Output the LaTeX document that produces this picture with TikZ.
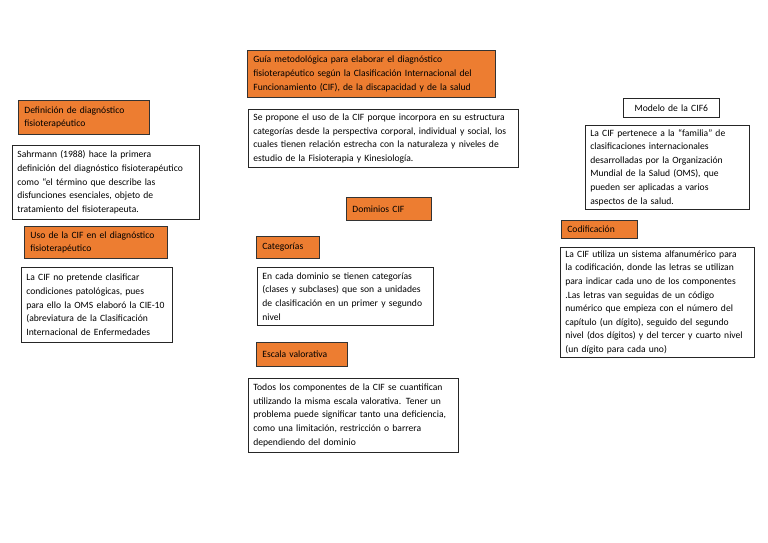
\documentclass[tikz,border=0pt]{standalone}
\usepackage{fontspec}
\setmainfont{Carlito}
\usepackage{xcolor}
\usepackage{tikz}
\usetikzlibrary{positioning}
\definecolor{orange2}{HTML}{ED7D31}

\begin{document}
\begin{tikzpicture}[x=1pt,y=-1pt,
          every node/.style={font=\fontsize{9.6}{13.6}\selectfont,anchor=north west},
          head/.style={draw=black!80,line width=0.7pt,fill=orange2,align=left,
                       inner xsep=6pt,inner ysep=2pt},
          txt/.style={draw=black!85,line width=0.7pt,fill=white,align=left,
                      inner xsep=5pt,inner ysep=2pt},
      ]
        \useasboundingbox[fill=white] (0,0) rectangle (768,543);

        % centre column
        \node[head,text width=236pt,minimum height=47pt] (guia) at (247,50)
          {Guía metodológica para elaborar el diagnóstico\\
           fisioterapéutico según la Clasificación Internacional del\\
           Funcionamiento (CIF), de la discapacidad y de la salud};
        \node[txt,text width=260pt,minimum height=58pt] (propone) at (248,109)
          {Se propone el uso de la CIF porque incorpora en su estructura\\
           categorías desde la perspectiva corporal, individual y social, los\\
           cuales tienen relación estrecha con la naturaleza y niveles de\\
           estudio de la Fisioterapia y Kinesiología.};
        \node[head,text width=73pt,minimum height=23pt] (dominios) at (346,197)
          {Dominios CIF};
        \node[head,text width=51pt,minimum height=22pt] (categ) at (256,236)
          {Categorías};
        \node[txt,text width=166pt,minimum height=58pt] (cada) at (257,267)
          {En cada dominio se tienen categorías\\
           (clases y subclases) que son a unidades\\
           de clasificación en un primer y segundo\\
           nivel};
        \node[head,text width=79pt,minimum height=24pt] (escala) at (256,342)
          {Escala valorativa};
        \node[txt,text width=200pt,minimum height=74pt] (todos) at (248,378)
          {Todos los componentes de la CIF se cuantifican\\
           utilizando la misma escala valorativa. Tener un\\
           problema puede significar tanto una deficiencia,\\
           como una limitación, restricción o barrera\\
           dependiendo del dominio};

        % left column
        \node[head,text width=119pt,minimum height=34pt] (defin) at (18,100)
          {Definición de diagnóstico\\
           fisioterapéutico};
        \node[txt,text width=177pt,minimum height=74pt] (sahr) at (12,145)
          {Sahrmann (1988) hace la primera\\
           definición del diagnóstico fisioterapéutico\\
           como “el término que describe las\\
           disfunciones esenciales, objeto de\\
           tratamiento del fisioterapeuta.};
        \node[head,text width=131pt,minimum height=32pt] (uso) at (24,226)
          {Uso de la CIF en el diagnóstico\\
           fisioterapéutico};
        \node[txt,text width=141pt,minimum height=75pt] (nopret) at (21,267)
          {La CIF no pretende clasificar\\
           condiciones patológicas, pues\\
           para ello la OMS elaboró la CIE-10\\
           (abreviatura de la Clasificación\\
           Internacional de Enfermedades};

        % right column
        \node[txt,align=center,text width=86pt,minimum height=19pt] (modelo) at (623,98)
          {Modelo de la CIF6};
        \node[txt,text width=154pt,minimum height=84pt] (familia) at (585,125)
          {La CIF pertenece a la “familia” de\\
           clasificaciones internacionales\\
           desarrolladas por la Organización\\
           Mundial de la Salud (OMS), que\\
           pueden ser aplicadas a varios\\
           aspectos de la salud.};
        \node[head,text width=64pt,minimum height=18pt] (codif) at (561,220)
          {Codificación};
        \node[txt,text width=184pt,minimum height=110pt] (alfa) at (560,247)
          {La CIF utiliza un sistema alfanumérico para\\
           la codificación, donde las letras se utilizan\\
           para indicar cada uno de los componentes\\
           .Las letras van seguidas de un código\\
           numérico que empieza con el número del\\
           capítulo (un dígito), seguido del segundo\\
           nivel (dos dígitos) y del tercer y cuarto nivel\\
           (un dígito para cada uno)};
      \end{tikzpicture}
\end{document}
